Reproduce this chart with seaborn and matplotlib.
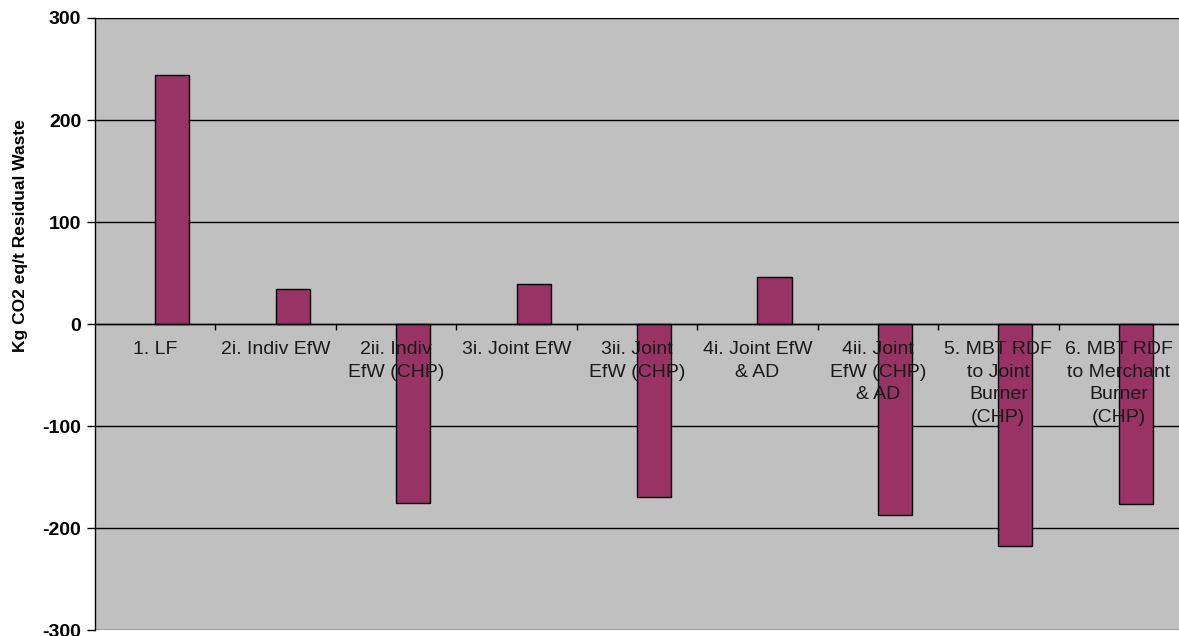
import numpy as np
import pandas as pd
import matplotlib
matplotlib.use("Agg")
import matplotlib.pyplot as plt
import seaborn as sns

# 데이터
scenarios = [
    "1. LF",
    "2i. Indiv EfW",
    "2ii. Indiv\nEfW (CHP)",
    "3i. Joint EfW",
    "3ii. Joint\nEfW (CHP)",
    "4i. Joint EfW\n& AD",
    "4ii. Joint\nEfW (CHP)\n& AD",
    "5. MBT RDF\nto Joint\nBurner\n(CHP)",
    "6. MBT RDF\nto Merchant\nBurner\n(CHP)",
]
co2_values = [244, 34, -175, 39, -170, 46, -187, -218, -176]
y_ticks = [-300, -200, -100, 0, 100, 200, 300]

# 엑셀 원본처럼 빈 계열 + 값 계열 (막대가 카테고리 중앙 오른쪽에 위치)
df = pd.DataFrame({
    "scenario": scenarios * 2,
    "series": ["blank"] * len(scenarios) + ["co2"] * len(scenarios),
    "value": [np.nan] * len(scenarios) + co2_values,
})

sns.set_theme(style="white")
plt.rcParams["font.family"] = ["Liberation Sans", "DejaVu Sans"]

fig = plt.figure(figsize=(11.79, 6.36), dpi=100)
ax = fig.add_axes([0.0806, 0.0094, 0.9194, 0.9623])
ax.set_facecolor("#C0C0C0")

sns.barplot(data=df, x="scenario", y="value", hue="series",
            hue_order=["blank", "co2"], palette=["#993366", "#993366"],
            saturation=1, width=0.566, edgecolor="black", linewidth=1,
            errorbar=None, legend=False, ax=ax)

ax.set_xlim(-0.5, len(scenarios) - 0.5)
ax.set_ylim(-300, 300)
ax.set_yticks(y_ticks)
ax.set_yticklabels([str(v) for v in y_ticks], fontsize=14, fontweight="bold")
ax.yaxis.grid(True, color="black", linewidth=1)
ax.set_axisbelow(True)
ax.xaxis.set_zorder(3)

# x축을 0 위치에
for s in ["top", "right"]:
    ax.spines[s].set_visible(False)
ax.spines["bottom"].set_position(("data", 0))
ax.spines["bottom"].set_color("black")
ax.spines["bottom"].set_linewidth(1)
ax.spines["left"].set_color("black")
ax.spines["left"].set_linewidth(1)

ax.set_xticks(range(len(scenarios)))
ax.set_xticklabels(scenarios, fontsize=14, linespacing=1.45)
ax.set_xticks(np.arange(0.5, len(scenarios) - 1, 1), minor=True)
ax.tick_params(axis="x", which="major", length=0, pad=12, colors="#1a1a1a")
ax.tick_params(axis="x", which="minor", length=4, width=1, direction="out",
               bottom=True, color="black")
ax.tick_params(axis="y", length=6, width=1, left=True, pad=4, colors="black")

ax.set_xlabel("")
ax.set_ylabel("Kg CO2 eq/t Residual Waste", fontsize=12.5, fontweight="bold",
              color="black")
ax.yaxis.set_label_coords(-0.062, 0.644)

fig.savefig("out.png", dpi=100, facecolor="white")
